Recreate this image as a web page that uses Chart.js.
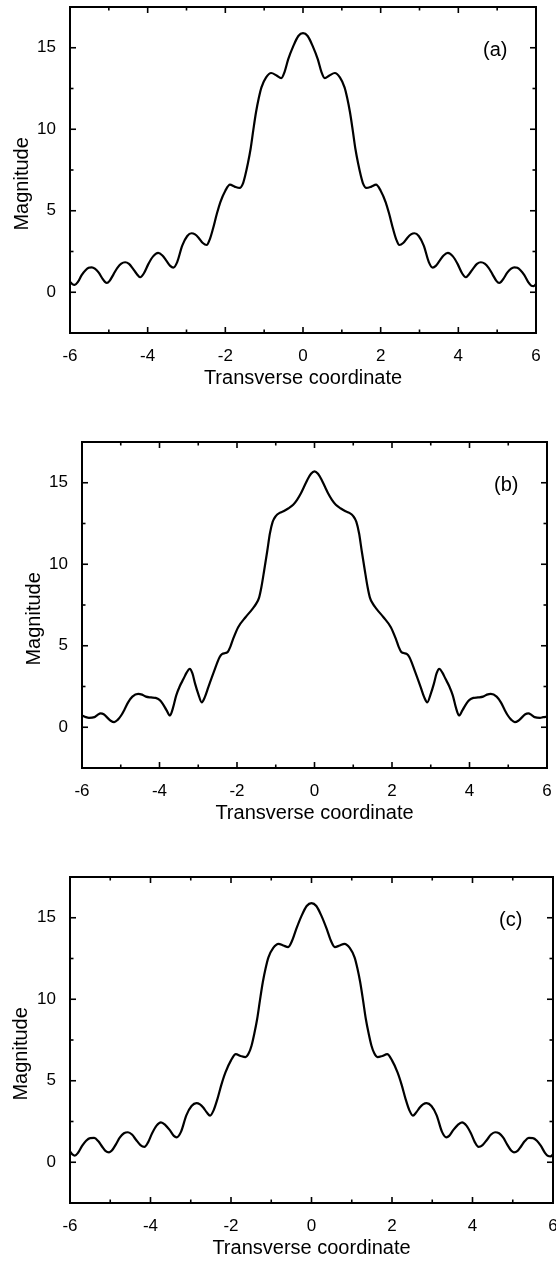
<!DOCTYPE html>
<html>
<head>
<meta charset="utf-8">
<script src="https://cdn.jsdelivr.net/npm/chart.js@4.4.1/dist/chart.umd.min.js"></script>
<style>
  html, body { margin: 0; padding: 0; overflow: hidden; background: #fff; }
  body { width: 556px; height: 1261px; position: relative; }
  .panel { position: absolute; left: 0; }
</style>
</head>
<body>
<div class="panel" style="top:0px"><canvas id="ca" width="556" height="435"></canvas></div>
<div class="panel" style="top:435px"><canvas id="cb" width="556" height="435"></canvas></div>
<div class="panel" style="top:870px"><canvas id="cc" width="556" height="391"></canvas></div>
<script>
// ---------------- DATA ----------------
const xTickValues = [-6, -4, -2, 0, 2, 4, 6];
const xMinorValues = [-5, -3, -1, 1, 3, 5];
const yTickValues = [0, 5, 10, 15];
const yMinorValues = [2.5, 7.5, 12.5];
const xTitle = "Transverse coordinate";
const yTitle = "Magnitude";
const panelLabels = ["(a)", "(b)", "(c)"];

// panel (a)
const xA = [-6.00, -5.94, -5.88, -5.80, -5.70, -5.60, -5.52, -5.44, -5.36, -5.26, -5.16, -5.10, -5.05, -4.98, -4.88, -4.78, -4.68, -4.58, -4.48, -4.38, -4.28, -4.19, -4.10, -3.98, -3.86, -3.73, -3.62, -3.52, -3.42, -3.34, -3.24, -3.11, -2.98, -2.87, -2.78, -2.69, -2.58, -2.48, -2.40, -2.32, -2.22, -2.13, -2.00, -1.88, -1.76, -1.63, -1.55, -1.49, -1.42, -1.35, -1.28, -1.21, -1.14, -1.07, -0.95, -0.82, -0.68, -0.56, -0.47, -0.38, -0.25, -0.12, 0.00,
            0.12, 0.25, 0.38, 0.47, 0.56, 0.68, 0.82, 0.95, 1.07, 1.14, 1.21, 1.28, 1.35, 1.42, 1.49, 1.55, 1.63, 1.76, 1.88, 2.00, 2.13, 2.22, 2.32, 2.40, 2.48, 2.58, 2.69, 2.78, 2.87, 2.98, 3.11, 3.24, 3.34, 3.42, 3.52, 3.62, 3.73, 3.86, 3.98, 4.10, 4.19, 4.28, 4.38, 4.48, 4.58, 4.68, 4.78, 4.88, 4.98, 5.05, 5.10, 5.16, 5.26, 5.36, 5.44, 5.52, 5.60, 5.70, 5.80, 5.88, 5.94, 6.00];
const yA = [0.65, 0.50, 0.45, 0.62, 1.05, 1.35, 1.50, 1.53, 1.45, 1.20, 0.82, 0.64, 0.57, 0.70, 1.10, 1.50, 1.76, 1.84, 1.74, 1.45, 1.12, 0.92, 1.15, 1.74, 2.20, 2.41, 2.25, 1.94, 1.62, 1.51, 1.85, 2.86, 3.45, 3.62, 3.55, 3.35, 3.02, 2.90, 3.25, 3.88, 4.80, 5.52, 6.23, 6.60, 6.48, 6.40, 6.65, 7.15, 7.90, 8.79, 9.95, 11.04, 11.90, 12.57, 13.18, 13.45, 13.30, 13.14, 13.55, 14.30, 15.10, 15.72, 15.90,
            15.72, 15.10, 14.30, 13.55, 13.14, 13.30, 13.45, 13.18, 12.57, 11.90, 11.04, 9.95, 8.79, 7.90, 7.15, 6.65, 6.40, 6.48, 6.60, 6.23, 5.52, 4.80, 3.88, 3.25, 2.90, 3.02, 3.35, 3.55, 3.62, 3.45, 2.86, 1.85, 1.51, 1.62, 1.94, 2.25, 2.41, 2.20, 1.74, 1.15, 0.92, 1.12, 1.45, 1.74, 1.84, 1.76, 1.50, 1.10, 0.70, 0.57, 0.64, 0.82, 1.20, 1.45, 1.53, 1.50, 1.35, 1.05, 0.62, 0.40, 0.38, 0.50];

// panel (b)
const xB = [-6.00, -5.90, -5.82, -5.68, -5.60, -5.52, -5.44, -5.36, -5.26, -5.17, -5.08, -4.99, -4.90, -4.81, -4.70, -4.55, -4.45, -4.35, -4.22, -4.10, -4.00, -3.92, -3.82, -3.73, -3.65, -3.57, -3.48, -3.38, -3.30, -3.22, -3.15, -3.08, -3.00, -2.91, -2.83, -2.74, -2.60, -2.45, -2.38, -2.30, -2.24, -2.17, -2.10, -1.97, -1.78, -1.60, -1.50, -1.43, -1.37, -1.30, -1.22, -1.15, -1.08, -1.00, -0.90, -0.80, -0.68, -0.55, -0.45, -0.35, -0.27, -0.18, -0.09, 0.00,
            0.09, 0.18, 0.27, 0.35, 0.45, 0.55, 0.68, 0.80, 0.90, 1.00, 1.08, 1.15, 1.22, 1.30, 1.37, 1.43, 1.50, 1.60, 1.78, 1.97, 2.10, 2.17, 2.24, 2.30, 2.38, 2.45, 2.60, 2.74, 2.83, 2.91, 3.00, 3.08, 3.15, 3.22, 3.30, 3.38, 3.48, 3.57, 3.65, 3.73, 3.82, 3.92, 4.00, 4.10, 4.22, 4.35, 4.45, 4.55, 4.70, 4.81, 4.90, 4.99, 5.08, 5.17, 5.26, 5.36, 5.44, 5.52, 5.60, 5.68, 5.82, 5.90, 6.00];
const yB = [0.72, 0.62, 0.58, 0.62, 0.75, 0.85, 0.80, 0.62, 0.40, 0.31, 0.45, 0.72, 1.10, 1.53, 1.88, 2.05, 2.00, 1.88, 1.83, 1.80, 1.68, 1.45, 1.05, 0.72, 1.20, 1.94, 2.50, 2.97, 3.35, 3.58, 3.30, 2.66, 2.05, 1.53, 1.85, 2.46, 3.38, 4.30, 4.50, 4.55, 4.62, 4.95, 5.42, 6.14, 6.75, 7.26, 7.60, 7.95, 8.60, 9.60, 10.80, 11.90, 12.60, 12.95, 13.15, 13.25, 13.42, 13.65, 13.95, 14.35, 14.75, 15.20, 15.55, 15.70,
            15.55, 15.20, 14.75, 14.35, 13.95, 13.65, 13.42, 13.25, 13.15, 12.95, 12.60, 11.90, 10.80, 9.60, 8.60, 7.95, 7.60, 7.26, 6.75, 6.14, 5.42, 4.95, 4.62, 4.55, 4.50, 4.30, 3.38, 2.46, 1.85, 1.53, 2.05, 2.66, 3.30, 3.58, 3.35, 2.97, 2.50, 1.94, 1.20, 0.72, 1.05, 1.45, 1.68, 1.80, 1.83, 1.88, 2.00, 2.05, 1.88, 1.53, 1.10, 0.72, 0.45, 0.31, 0.40, 0.62, 0.80, 0.85, 0.75, 0.62, 0.58, 0.62, 0.65];

// panel (c)
const xC = [-6.00, -5.94, -5.88, -5.80, -5.70, -5.60, -5.50, -5.40, -5.30, -5.20, -5.12, -5.03, -4.96, -4.86, -4.76, -4.66, -4.56, -4.46, -4.36, -4.25, -4.15, -4.06, -3.96, -3.85, -3.74, -3.63, -3.52, -3.42, -3.35, -3.24, -3.11, -2.98, -2.86, -2.77, -2.69, -2.60, -2.52, -2.43, -2.34, -2.24, -2.14, -2.00, -1.88, -1.76, -1.64, -1.56, -1.49, -1.42, -1.35, -1.28, -1.21, -1.14, -1.07, -0.95, -0.82, -0.70, -0.58, -0.48, -0.38, -0.25, -0.12, 0.00,
            0.12, 0.25, 0.38, 0.48, 0.58, 0.70, 0.82, 0.95, 1.07, 1.14, 1.21, 1.28, 1.35, 1.42, 1.49, 1.56, 1.64, 1.76, 1.88, 2.00, 2.14, 2.24, 2.34, 2.43, 2.52, 2.60, 2.69, 2.77, 2.86, 2.98, 3.11, 3.24, 3.35, 3.42, 3.52, 3.63, 3.74, 3.85, 3.96, 4.06, 4.15, 4.25, 4.36, 4.46, 4.56, 4.66, 4.76, 4.86, 4.96, 5.03, 5.12, 5.20, 5.30, 5.40, 5.50, 5.60, 5.70, 5.80, 5.88, 5.94, 6.00];
const yC = [0.67, 0.48, 0.41, 0.58, 1.00, 1.32, 1.48, 1.49, 1.30, 0.95, 0.70, 0.61, 0.72, 1.10, 1.52, 1.78, 1.84, 1.70, 1.38, 1.05, 0.94, 1.22, 1.78, 2.25, 2.45, 2.28, 1.97, 1.62, 1.53, 1.88, 2.88, 3.45, 3.63, 3.55, 3.36, 3.05, 2.86, 3.20, 3.86, 4.75, 5.50, 6.25, 6.63, 6.52, 6.45, 6.68, 7.15, 7.90, 8.79, 9.95, 11.04, 11.90, 12.57, 13.15, 13.40, 13.30, 13.20, 13.60, 14.30, 15.10, 15.72, 15.90,
            15.72, 15.10, 14.30, 13.60, 13.20, 13.30, 13.40, 13.15, 12.57, 11.90, 11.04, 9.95, 8.79, 7.90, 7.15, 6.68, 6.45, 6.52, 6.63, 6.25, 5.50, 4.75, 3.86, 3.20, 2.86, 3.05, 3.36, 3.55, 3.63, 3.45, 2.88, 1.88, 1.53, 1.62, 1.97, 2.28, 2.45, 2.25, 1.78, 1.22, 0.94, 1.05, 1.38, 1.70, 1.84, 1.78, 1.52, 1.10, 0.72, 0.61, 0.70, 0.95, 1.30, 1.49, 1.48, 1.32, 1.00, 0.58, 0.38, 0.36, 0.48];

const labelPos = [4.95, 14.85]; // data coordinates of the panel label

// ---------------- LAYOUT ----------------
const FONT = "'Liberation Sans', Arial, Helvetica, sans-serif";
const panels = [
  { id: 'ca', xs: xA, ys: yA, label: panelLabels[0], H: 435, left: 70, right: 536, yTitleX: 22 },
  { id: 'cb', xs: xB, ys: yB, label: panelLabels[1], H: 435, left: 82, right: 547, yTitleX: 34 },
  { id: 'cc', xs: xC, ys: yC, label: panelLabels[2], H: 391, left: 70, right: 553, yTitleX: 21 }
];

const frameTicks = {
  id: 'frameTicks',
  afterDatasetsDraw(chart, args, opts) {
    const { ctx, chartArea: a, scales: { x, y } } = chart;
    ctx.save();
    ctx.strokeStyle = '#000';
    ctx.lineCap = 'butt';
    const seg = (x1, y1, x2, y2) => { ctx.beginPath(); ctx.moveTo(x1, y1); ctx.lineTo(x2, y2); ctx.stroke(); };
    ctx.lineWidth = 1.6;
    const maj = 6, min = 3.5;
    xTickValues.forEach(v => { const p = x.getPixelForValue(v); seg(p, a.bottom, p, a.bottom - maj); seg(p, a.top, p, a.top + maj); });
    xMinorValues.forEach(v => { const p = x.getPixelForValue(v); seg(p, a.bottom, p, a.bottom - min); seg(p, a.top, p, a.top + min); });
    yTickValues.forEach(v => { const p = y.getPixelForValue(v); seg(a.left, p, a.left + maj, p); seg(a.right, p, a.right - maj, p); });
    yMinorValues.forEach(v => { const p = y.getPixelForValue(v); seg(a.left, p, a.left + min, p); seg(a.right, p, a.right - min, p); });
    ctx.lineWidth = 2;
    ctx.strokeRect(a.left, a.top, a.right - a.left, a.bottom - a.top);
    ctx.fillStyle = '#000';
    ctx.font = '20px ' + FONT;
    ctx.textAlign = 'center';
    ctx.textBaseline = 'middle';
    ctx.fillText(opts.label, x.getPixelForValue(labelPos[0]), y.getPixelForValue(labelPos[1]));
    ctx.restore();
  }
};

panels.forEach(p => {
  const pts = p.xs.map((v, i) => ({ x: v, y: p.ys[i] }));
  new Chart(document.getElementById(p.id), {
    type: 'line',
    data: { datasets: [{ data: pts, borderColor: '#000', borderWidth: 2.2, pointRadius: 0, fill: false, cubicInterpolationMode: 'monotone' }] },
    options: {
      responsive: false,
      animation: false,
      devicePixelRatio: 1,
      layout: { padding: { left: 0, right: 556 - p.right, top: 7, bottom: p.H - 390 } },
      plugins: { legend: { display: false }, tooltip: { enabled: false }, frameTicks: { label: p.label } },
      scales: {
        x: {
          type: 'linear', min: -6, max: 6,
          grid: { display: false }, border: { display: false },
          afterBuildTicks: s => { s.ticks = xTickValues.map(v => ({ value: v })); },
          afterFit: s => { s.height = 57; s.paddingLeft = 0; s.paddingRight = 0; },
          ticks: { color: '#000', font: { family: FONT, size: 17, lineHeight: 1.2 }, padding: 5, maxRotation: 0, autoSkip: false },
          title: { display: true, text: xTitle, color: '#000', font: { family: FONT, size: 20, lineHeight: 1.2 }, padding: 0 }
        },
        y: {
          type: 'linear', min: -2.5, max: 17.5,
          grid: { display: false }, border: { display: false },
          afterBuildTicks: s => { s.ticks = yTickValues.map(v => ({ value: v })); },
          afterFit: s => { s.width = p.left; s.paddingTop = 0; s.paddingBottom = 0; },
          ticks: { color: '#000', font: { family: FONT, size: 17, lineHeight: 1.2 }, padding: 6, autoSkip: false },
          title: { display: true, text: yTitle + '     ', color: '#000', font: { family: FONT, size: 20, lineHeight: 1.2 }, padding: { top: p.yTitleX - 12, bottom: 0 } }
        }
      }
    },
    plugins: [frameTicks]
  });
});
</script>
</body>
</html>
